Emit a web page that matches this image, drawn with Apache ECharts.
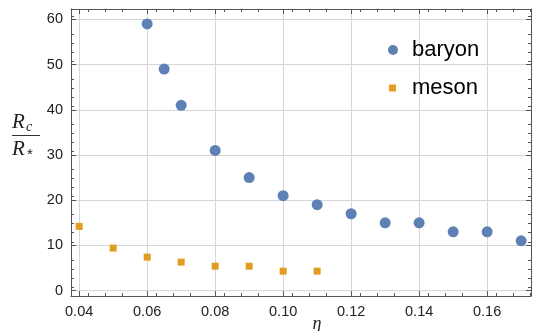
<!DOCTYPE html>
<html><head><meta charset="utf-8">
<script src="https://cdn.jsdelivr.net/npm/echarts@6/dist/echarts.min.js"></script>
<style>html,body{margin:0;padding:0;background:#fff}#c{width:533px;height:331px}</style>
</head><body><div id="c"></div>
<script>
const baryonEta = [0.06, 0.065, 0.07, 0.08, 0.09, 0.10, 0.11, 0.12, 0.13, 0.14, 0.15, 0.16, 0.17];
const baryonVal = [59, 49, 41, 31, 25, 21, 19, 17, 15, 15, 13, 13, 11];
const mesonEta = [0.04, 0.05, 0.06, 0.07, 0.08, 0.09, 0.10, 0.11];
const mesonVal = [14.2, 9.4, 7.4, 6.3, 5.4, 5.4, 4.3, 4.3];
const xTicks = [0.04, 0.06, 0.08, 0.10, 0.12, 0.14, 0.16];
const yTicks = [0, 10, 20, 30, 40, 50, 60];

const axisCol = '#555';
const sans = 'Liberation Sans, Arial, sans-serif';
const serif = 'Liberation Serif, Times New Roman, serif';
const labelFont = {color: '#222', fontSize: 14.5, fontFamily: sans};
const chart = echarts.init(document.getElementById('c'), null, {renderer: 'canvas'});
const xBase = {
  type: 'value', min: 0.0376, max: 0.1729, interval: 0.02,
  axisLine: {show: true, onZero: false, lineStyle: {color: axisCol, width: 1}},
  axisTick: {show: true, inside: true, length: 5, lineStyle: {color: axisCol}, customValues: xTicks},
  minorTick: {show: true, splitNumber: 4, length: 3, lineStyle: {color: axisCol}},
  splitLine: {show: false}
};
const yBase = {
  type: 'value', min: -1.2, max: 62.3, interval: 10,
  axisLine: {show: true, onZero: false, lineStyle: {color: axisCol, width: 1}},
  axisTick: {show: true, inside: true, length: 5, lineStyle: {color: axisCol}, customValues: yTicks},
  minorTick: {show: true, splitNumber: 5, length: 3, lineStyle: {color: axisCol}},
  splitLine: {show: false}
};
chart.setOption({
  animation: false,
  grid: {left: 71, right: 2, top: 9, bottom: 35, containLabel: false},
  xAxis: [
    Object.assign({}, xBase, {position: 'bottom',
      axisLabel: Object.assign({show: true, margin: 8, customValues: xTicks,
        formatter: v => v.toFixed(2)}, labelFont),
      splitLine: {show: true, lineStyle: {color: '#d6d6d6', width: 1}}
    }),
    Object.assign({}, xBase, {position: 'top', axisLabel: {show: false}})
  ],
  yAxis: [
    Object.assign({}, yBase, {position: 'left',
      axisLabel: Object.assign({show: true, margin: 8, customValues: yTicks}, labelFont),
      splitLine: {show: true, lineStyle: {color: '#d6d6d6', width: 1}}
    }),
    Object.assign({}, yBase, {position: 'right', axisLabel: {show: false}})
  ],
  legend: [
    {data: [{name: 'baryon', icon: 'circle'}], orient: 'vertical', left: 383, top: 34,
      itemWidth: 10, itemHeight: 10,
      textStyle: {fontSize: 22, color: '#000', fontFamily: sans, padding: [0, 0, 0, 9]}},
    {data: [{name: 'meson', icon: 'rect'}], orient: 'vertical', left: 384, top: 72,
      itemWidth: 7, itemHeight: 7,
      textStyle: {fontSize: 22, color: '#000', fontFamily: sans, padding: [0, 0, 0, 11]}}
  ],
  graphic: [
    {type: 'text', x: 12, y: 122, style: {text: 'R', font: 'italic 21px ' + serif, fill: '#222', verticalAlign: 'middle'}},
    {type: 'text', x: 26, y: 127, style: {text: 'c', font: 'italic 14px ' + serif, fill: '#222', verticalAlign: 'middle'}},
    {type: 'line', shape: {x1: 12, y1: 135.5, x2: 40, y2: 135.5}, style: {stroke: '#333', lineWidth: 1}},
    {type: 'text', x: 12, y: 149, style: {text: 'R', font: 'italic 21px ' + serif, fill: '#222', verticalAlign: 'middle'}},
    {type: 'text', x: 27, y: 155, style: {text: '*', font: '15px ' + sans, fill: '#222', verticalAlign: 'middle'}},
    {type: 'text', x: 317, y: 324, style: {text: 'η', font: 'italic 18px ' + serif, fill: '#222', align: 'center', verticalAlign: 'middle'}}
  ],
  series: [
    {name: 'baryon', type: 'scatter', xAxisIndex: 0, yAxisIndex: 0, symbol: 'circle', symbolSize: 11,
      itemStyle: {color: '#5E81B5', opacity: 1},
      data: baryonEta.map((x, i) => [x, baryonVal[i]])},
    {name: 'meson', type: 'scatter', xAxisIndex: 0, yAxisIndex: 0, symbol: 'rect', symbolSize: 7,
      itemStyle: {color: '#E19C24', opacity: 1},
      data: mesonEta.map((x, i) => [x, mesonVal[i]])}
  ]
});
</script></body></html>
